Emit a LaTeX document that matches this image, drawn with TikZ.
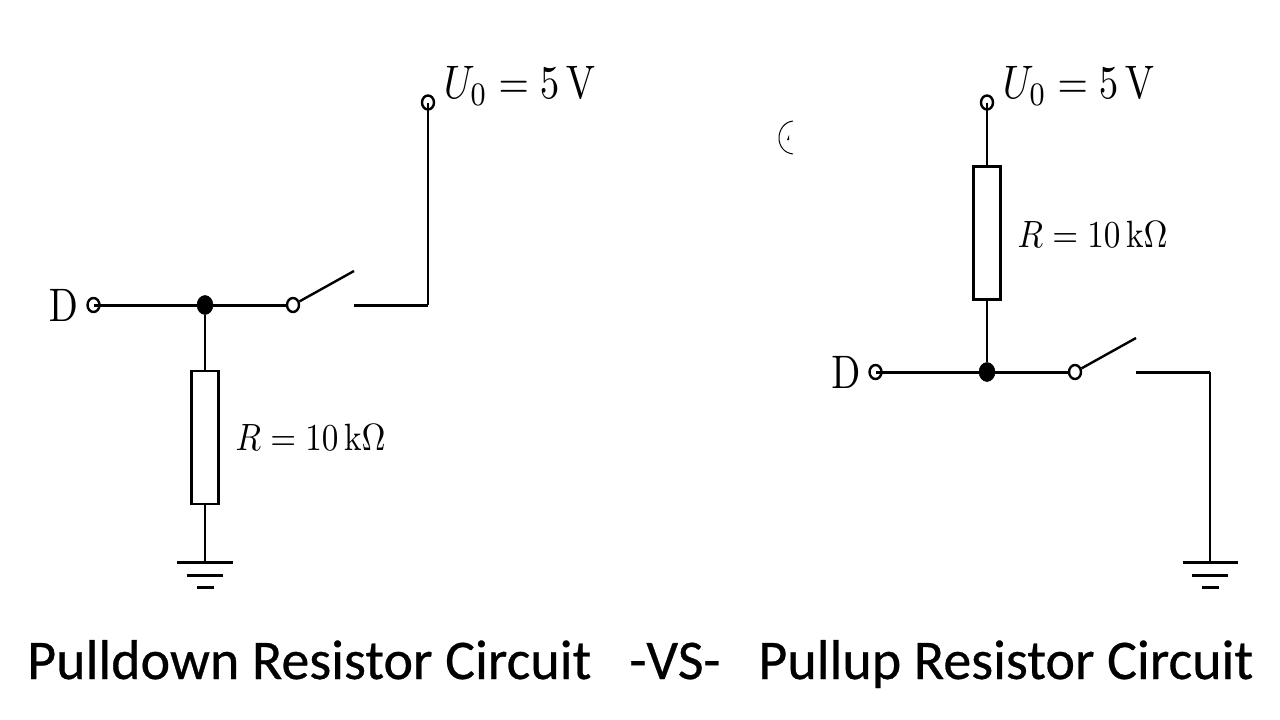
\documentclass[tikz,border=0pt]{standalone}
\usepackage[no-math]{fontspec}
\newfontfamily\capfont[FakeBold=0.5]{Carlito}
\tikzset{
  x=1pt,y=-1pt,
  wire/.style={draw=black,line width=3pt},
  thin wire/.style={draw=black,line width=2.4pt},
  terminal/.style={ellipse,draw=black,fill=white,line width=2.4pt,minimum width=12pt,minimum height=14pt,inner sep=0pt},
  junction/.style={ellipse,draw=black,fill=black,line width=0.5pt,minimum width=16pt,minimum height=19pt,inner sep=0pt},
  pivot/.style={ellipse,draw=black,fill=white,line width=2.4pt,minimum width=12pt,minimum height=14pt,inner sep=0pt},
  resistor/.style={rectangle,draw=black,fill=white,line width=2.6pt,minimum width=27pt,minimum height=133pt,inner sep=0pt},
  gnd/.style={draw=black,line width=3pt},
  mathlabel/.style={inner sep=0pt,xscale=3.9,yscale=4.7,anchor=base west},
  rlabel/.style={inner sep=0pt,xscale=3.32,yscale=3.8,anchor=base west},
  dlabel/.style={inner sep=0pt,xscale=3.8,yscale=4.7,anchor=base},
  caption/.style={inner sep=0pt,anchor=base west,font=\capfont\fontsize{56}{66}\selectfont}
}
\usetikzlibrary{shapes.geometric}
\begin{document}
\begin{tikzpicture}
\useasboundingbox (0,0) rectangle (1280,720);
\fill[white] (0,0) rectangle (1280,720);
% left circuit
\coordinate (lcontact) at (354,305);
\coordinate (lcorner) at (428,305);
\coordinate (lblade) at (354,271);
\coordinate (lg1) at (205,562);
\coordinate (lg1a) at (177,562); \coordinate (lg1b) at (233,562);
\coordinate (lg2a) at (187,575); \coordinate (lg2b) at (223,575);
\coordinate (lg3a) at (197,587); \coordinate (lg3b) at (214,587);
\node[terminal] (ltop) at (428,102.5) {};
\node[terminal] (ld) at (93.5,305) {};
\node[junction] (lj) at (205,305) {};
\node[pivot] (lsw) at (293,305) {};
\node[resistor] (lr) at (205,437.5) {};
\draw[wire] (ld.center) -- (lj);
\draw[wire] (lj) -- (lsw);
\draw[thin wire] (lsw) -- (lblade);
\draw[wire] (lcontact) -- (lcorner);
\draw[thin wire] (lcorner) -- (ltop.center);
\draw[thin wire] (lj) -- (lr);
\draw[thin wire] (lr) -- (lg1);
\draw[gnd] (lg1a) -- (lg1b);
\draw[gnd] (lg2a) -- (lg2b);
\draw[gnd] (lg3a) -- (lg3b);
\node[mathlabel] (lu) at (443,98.5) {$U_0=5\,\mathrm{V}$};
\node[dlabel] (ldl) at (63.5,321) {$\mathrm{D}$};
\node[rlabel] (lrl) at (235,450) {$R=10\,\mathrm{k}\Omega$};
% right circuit
\coordinate (rcontact) at (1136,372);
\coordinate (rcorner) at (1210,372);
\coordinate (rblade) at (1136,338);
\coordinate (rg1) at (1210,562);
\coordinate (rg1a) at (1183,562); \coordinate (rg1b) at (1238,562);
\coordinate (rg2a) at (1192,575); \coordinate (rg2b) at (1228,575);
\coordinate (rg3a) at (1202,587); \coordinate (rg3b) at (1219,587);
\node[terminal] (rtop) at (987,102.5) {};
\node[terminal] (rd) at (875.5,372) {};
\node[junction] (rj) at (987,372) {};
\node[pivot] (rsw) at (1075,372) {};
\node[resistor] (rr) at (987,233) {};
\draw[wire] (rd.center) -- (rj);
\draw[wire] (rj) -- (rsw);
\draw[thin wire] (rsw) -- (rblade);
\draw[wire] (rcontact) -- (rcorner);
\draw[thin wire] (rcorner) -- (rg1);
\draw[thin wire] (rtop.center) -- (rr);
\draw[thin wire] (rr) -- (rj);
\draw[gnd] (rg1a) -- (rg1b);
\draw[gnd] (rg2a) -- (rg2b);
\draw[gnd] (rg3a) -- (rg3b);
\node[mathlabel] (ru) at (1002,98.5) {$U_0=5\,\mathrm{V}$};
\node[dlabel] (rdl) at (846,388) {$\mathrm{D}$};
\node[rlabel] (rrl) at (1017,247) {$R=10\,\mathrm{k}\Omega$};
% stray glyph fragment
\draw[black,line width=1pt] (793,121) .. controls (784,122) and (779,130) .. (779,138) .. controls (779,146) and (784,153) .. (793,154);
\fill[black] (787,140) -- (789,135) -- (789,140) -- cycle;
% caption
\node[caption] (cap) at (27,679) {Pulldown Resistor Circuit\hspace{38pt}-VS-\hspace{38pt}Pullup Resistor Circuit};
\end{tikzpicture}
\end{document}
